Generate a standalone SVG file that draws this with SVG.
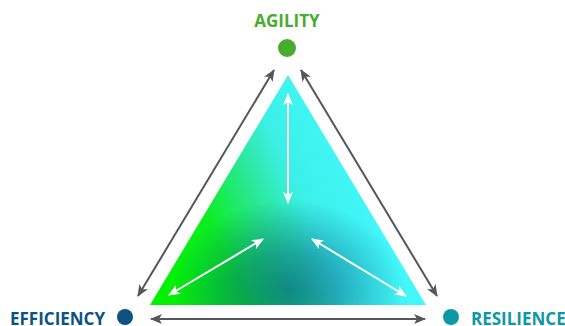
<svg xmlns="http://www.w3.org/2000/svg" width="565" height="326" viewBox="0 0 565 326">
<style>
.lbl{font-family:"Open Sans","Liberation Sans",sans-serif;font-weight:700;font-size:17px;}
.outer{stroke:#53575c;stroke-width:2;fill:none;marker-start:url(#ga);marker-end:url(#ga);}
.inner{stroke:#ffffff;stroke-width:2;fill:none;marker-start:url(#wa);marker-end:url(#wa);}
</style>
<defs>
<marker id="ga" viewBox="0 0 12 10" refX="11" refY="5" markerWidth="6" markerHeight="5" orient="auto-start-reverse" markerUnits="strokeWidth">
<path d="M0,0 L12,5 L0,10 L3,5 z" fill="#53575c"/>
</marker>
<marker id="wa" viewBox="0 0 12 10" refX="11" refY="5" markerWidth="6" markerHeight="5" orient="auto-start-reverse" markerUnits="strokeWidth">
<path d="M0,0 L12,5 L0,10 L3,5 z" fill="#ffffff"/>
</marker>
<linearGradient id="base" gradientUnits="userSpaceOnUse" x1="160" y1="300" x2="390" y2="200">
<stop offset="0" stop-color="#00f000"/>
<stop offset="0.3" stop-color="#0cee20"/>
<stop offset="0.5" stop-color="#28e890"/>
<stop offset="0.68" stop-color="#3cf0e8"/>
<stop offset="1" stop-color="#44f8ff"/>
</linearGradient>
<radialGradient id="dark" gradientUnits="userSpaceOnUse" cx="288" cy="290" r="100" fx="288" fy="290" gradientTransform="translate(288 290) scale(1.15 0.9) translate(-288 -290)">
<stop offset="0" stop-color="#004a80" stop-opacity="0.6"/>
<stop offset="0.45" stop-color="#004a80" stop-opacity="0.4"/>
<stop offset="1" stop-color="#004a80" stop-opacity="0"/>
</radialGradient>
</defs>
<g id="triangle">
<polygon points="288,75 150,305 426,305" fill="url(#base)"/>
<polygon points="288,75 150,305 426,305" fill="url(#dark)"/>
</g>
<g id="agility">
<circle cx="287" cy="48" r="9" fill="#47ad2e"/>
<text class="lbl" x="287" y="27" text-anchor="middle" fill="#47ad2e">AGILITY</text>
</g>
<g id="efficiency">
<circle cx="125" cy="317" r="8" fill="#0d5382"/>
<text class="lbl" x="10" y="325" fill="#0d5382">EFFICIENCY</text>
</g>
<g id="resilience">
<circle cx="451" cy="317" r="8" fill="#0c99a6"/>
<text class="lbl" x="471" y="325" fill="#0c99a6">RESILIENCE</text>
</g>
<g id="connectors">
<line class="outer" x1="274" y1="70" x2="138" y2="296"/>
<line class="outer" x1="301" y1="70" x2="437" y2="296"/>
<line class="outer" x1="151" y1="319" x2="425" y2="319"/>
<line class="inner" x1="288" y1="94" x2="288" y2="203"/>
<line class="inner" x1="263" y1="239" x2="169" y2="295"/>
<line class="inner" x1="312" y1="239" x2="406" y2="296"/>
</g>
</svg>
